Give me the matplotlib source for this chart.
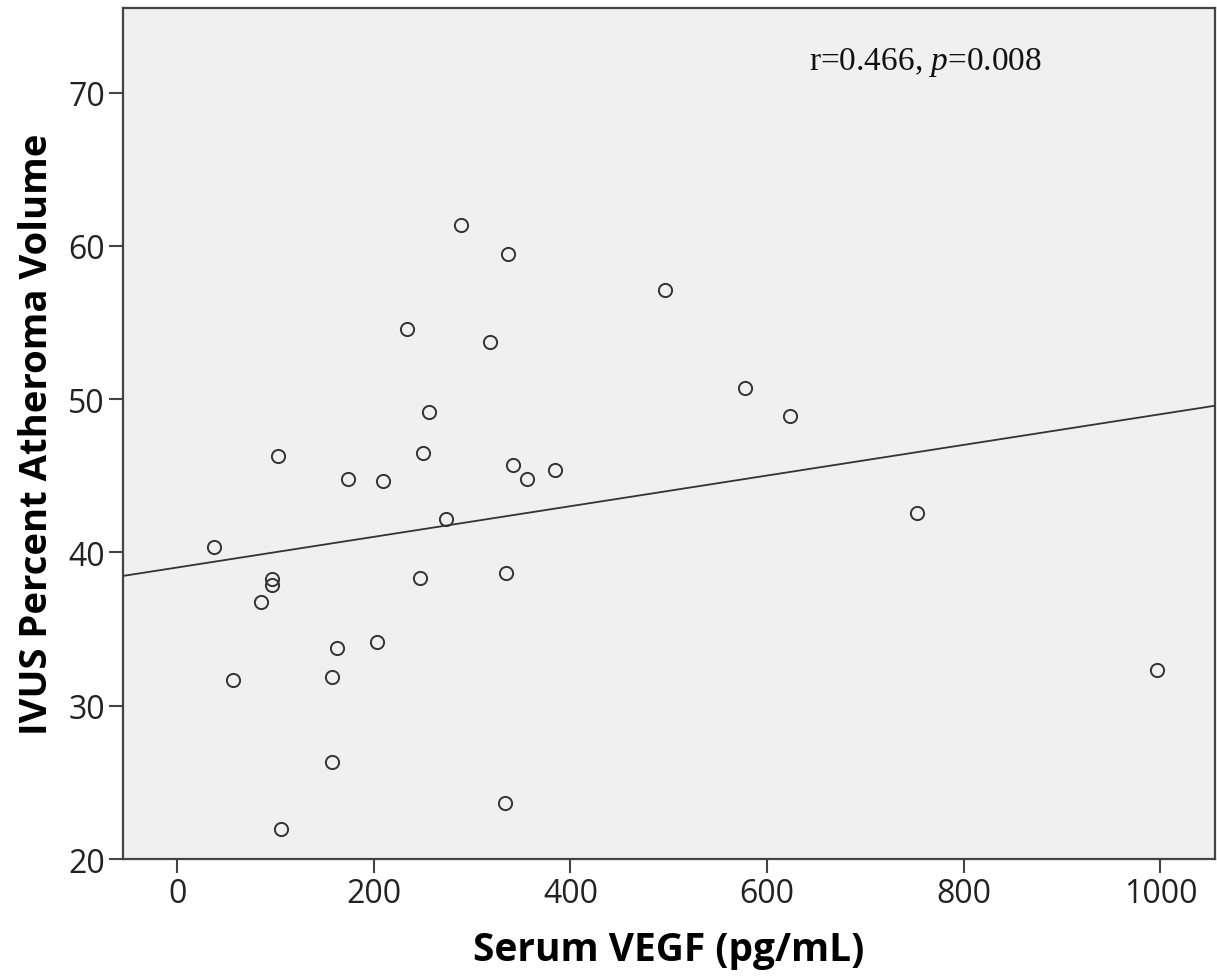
import numpy as np
import matplotlib
matplotlib.use('Agg')
import matplotlib.pyplot as plt

# Serum VEGF (pg/mL) vs IVUS percent atheroma volume
vegf = [37, 96.5, 96.5, 85, 56.5, 103, 174, 209, 163, 158, 203, 157, 106,
        234, 256, 250, 273, 246.5, 289, 318, 336, 342, 356, 384, 334, 333,
        496, 577, 623, 752, 996]
pav = [40.33, 38.27, 37.87, 36.78, 31.66, 46.27, 44.79, 44.64, 33.74, 31.87,
       34.13, 26.35, 21.96, 54.57, 49.14, 46.52, 42.18, 38.35, 61.36, 53.70,
       59.47, 45.72, 44.79, 45.40, 38.66, 23.65, 57.14, 50.70, 48.88, 42.55,
       32.35]
# fit line as printed on the chart
fit_intercept = 39.02
fit_slope = 0.0100
xticks = [0, 200, 400, 600, 800, 1000]
yticks = [20, 30, 40, 50, 60, 70]

plt.rcParams['font.family'] = 'Open Sans'
plt.rcParams['mathtext.fontset'] = 'custom'
plt.rcParams['mathtext.it'] = 'Liberation Serif:italic'
plt.rcParams['mathtext.rm'] = 'Liberation Serif'

x = np.array(vegf)
y = np.array(pav)

fig = plt.figure(figsize=(12.17, 9.79), dpi=100)
ax = fig.add_axes([0.1011, 0.1215, 0.8969, 0.869])
ax.set_facecolor('#f0f0f0')

ax.plot(x, y, 'o', ms=9.5, mfc='none', mec='#333333', mew=1.4)

xl = np.array([-55, 1055])
ax.plot(xl, fit_intercept + fit_slope * xl, color='#333333', lw=1.3)

ax.set_xlim(-55, 1055)
ax.set_ylim(20, 75.5)
ax.set_xticks(xticks)
ax.set_yticks(yticks)
ax.tick_params(direction='out', length=10, width=1.5, color='#444444',
               labelsize=23, labelcolor='#222222', pad=3)
for s in ax.spines.values():
    s.set_color('#444444')
    s.set_linewidth(1.6)

ax.set_xlabel('Serum VEGF (pg/mL)', fontsize=28, fontweight='bold', labelpad=14)
ax.set_ylabel('IVUS Percent Atheroma Volume', fontsize=27.5, fontweight='bold', labelpad=9)

ax.text(0.628, 0.9375, r'r=0.466, $\mathit{p}$=0.008', transform=ax.transAxes,
        fontsize=24, family='Liberation Serif', color='#111111', va='center')

fig.savefig('out.png', dpi=100)
